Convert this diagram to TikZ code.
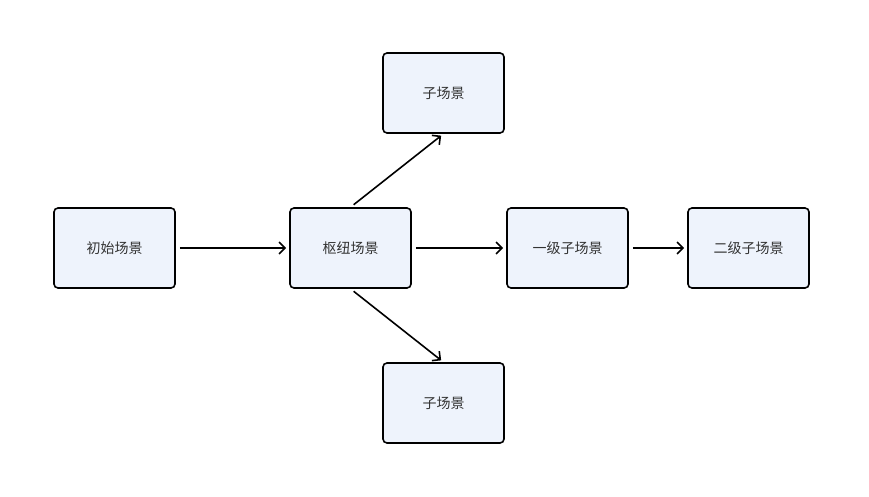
\documentclass[tikz,border=0pt]{standalone}
\usepackage{fontspec}
\setmainfont{Noto Sans CJK SC}
\usetikzlibrary{arrows.meta}
\definecolor{boxfill}{HTML}{EEF3FC}
\definecolor{txt}{HTML}{333333}
\begin{document}
\begin{tikzpicture}[x=1pt,y=-1pt,
  box/.style={draw=black,line width=1.6pt,fill=boxfill,rounded corners=4pt,minimum width=121pt,minimum height=80pt,inner sep=0pt,text=txt,font=\fontsize{14pt}{16pt}\selectfont},
  conn/.style={line width=1.6pt,-{Straight Barb[length=6pt,width=12pt,line width=1.6pt]},shorten <=4pt,shorten >=3pt}]
\useasboundingbox (0,0) rectangle (869,497);
\node[box] (a) at (114.5,248) {\raisebox{-1.5pt}{初始场景}};
\node[box] (h) at (350.5,248) {\raisebox{-1.5pt}{枢纽场景}};
\node[box] (t) at (443.5,93) {\raisebox{-1.5pt}{子场景}};
\node[box] (b) at (443.5,403) {\raisebox{-1.5pt}{子场景}};
\node[box] (c) at (567.5,248) {\raisebox{-1.5pt}{一级子场景}};
\node[box] (d) at (748.5,248) {\raisebox{-1.5pt}{二级子场景}};
\draw[conn] (a) -- (h);
\draw[conn] (h) -- (c);
\draw[conn] (c) -- (d);
\draw[conn] (h.north) -- (t.south);
\draw[conn] (h.south) -- (b.north);
\end{tikzpicture}
\end{document}
